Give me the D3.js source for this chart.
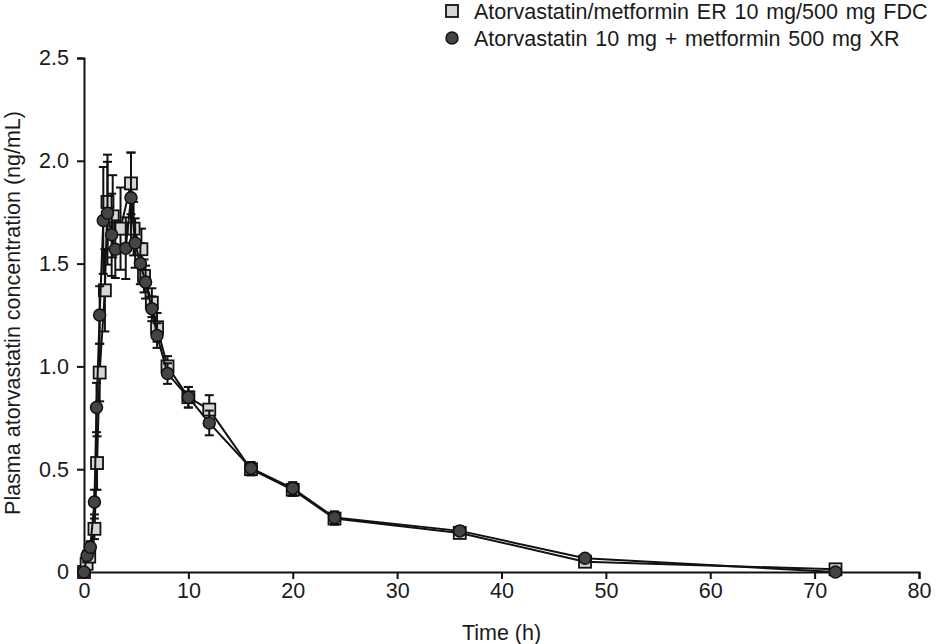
<!DOCTYPE html>
<html>
<head>
<meta charset="utf-8">
<script src="https://cdn.jsdelivr.net/npm/d3@7"></script>
<style>
    body { margin: 0; background: #fff; }
    text { font-family: "Liberation Sans", Arial, sans-serif; fill: #1a1a1a; }
</style>
</head>
<body>
<div id="chart-area"></div>
<script>
// Atorvastatin/metformin ER 10 mg/500 mg FDC (squares)
var fdcTime = [0, 0.25, 0.5, 1, 1.25, 1.5, 2, 2.25, 2.75, 3.5, 4.5, 4.75, 5.5, 5.75, 6.5, 7, 8, 10, 12, 16, 20, 24, 36, 48, 72];
var fdcConc = [0, 0.04, 0.075, 0.21, 0.53, 0.97, 1.37, 1.80, 1.73, 1.67, 1.89, 1.67, 1.57, 1.44, 1.31, 1.19, 1.00, 0.85, 0.79, 0.50, 0.40, 0.26, 0.19, 0.05, 0.013];
var fdcErr  = [0, 0.02, 0.03, 0.05, 0.13, 0.14, 0.20, 0.23, 0.20, 0.20, 0.15, 0.13, 0.10, 0.08, 0.07, 0.07, 0.05, 0.05, 0.07, 0.03, 0.03, 0.03, 0.02, 0.01, 0.005];

// Atorvastatin 10 mg + metformin 500 mg XR (circles)
var coTime = [0, 0.3, 0.6, 1, 1.2, 1.5, 1.85, 2.25, 2.65, 3, 4, 4.5, 4.9, 5.4, 5.9, 6.5, 7, 8, 10, 12, 16, 20, 24, 36, 48, 72];
var coConc = [0, 0.08, 0.12, 0.34, 0.80, 1.25, 1.71, 1.745, 1.64, 1.57, 1.575, 1.82, 1.60, 1.50, 1.41, 1.28, 1.15, 0.965, 0.85, 0.725, 0.505, 0.407, 0.265, 0.20, 0.067, 0];
var coErr  = [0, 0.02, 0.03, 0.06, 0.12, 0.14, 0.26, 0.25, 0.20, 0.14, 0.15, 0.22, 0.12, 0.10, 0.08, 0.06, 0.06, 0.05, 0.05, 0.06, 0.03, 0.03, 0.03, 0.02, 0.01, 0.005];

var xTicks = [0, 10, 20, 30, 40, 50, 60, 70, 80];
var yTicks = [0, 0.5, 1.0, 1.5, 2.0, 2.5];
var seriesNames = ["Atorvastatin/metformin ER 10 mg/500 mg FDC", "Atorvastatin 10 mg + metformin 500 mg XR"];

function PkChart() {
    var self = this;
    self.init();
}

PkChart.prototype.init = function() {
    var self = this;

    self.width = 935;
    self.height = 644;
    self.margin = {left: 84, right: 15, top: 58, bottom: 72};
    self.fontSize = 21.5;

    self.svg = d3.select("#chart-area").append("svg")
        .attr("width", self.width)
        .attr("height", self.height);

    self.x = d3.scaleLinear()
        .domain([0, 80])
        .range([self.margin.left, self.width - self.margin.right - 1]);

    self.y = d3.scaleLinear()
        .domain([0, 2.5])
        .range([self.height - self.margin.bottom, self.margin.top]);

    self.renderAxes();
    self.renderSeries(fdcTime, fdcConc, fdcErr, "square");
    self.renderSeries(coTime, coConc, coErr, "circle");
    self.renderLegend();
};

PkChart.prototype.renderAxes = function() {
    var self = this;

    var xAxis = d3.axisBottom(self.x)
        .tickValues(xTicks)
        .tickSize(7)
        .tickPadding(4)
        .tickFormat(d3.format("d"));

    var gx = self.svg.append("g")
        .attr("transform", "translate(0," + self.y(0) + ")")
        .call(xAxis);

    var yAxis = d3.axisLeft(self.y)
        .tickValues(yTicks)
        .tickSize(7)
        .tickPadding(8)
        .tickFormat(function(d) { return d === 0 ? "0" : d3.format(".1f")(d); });

    var gy = self.svg.append("g")
        .attr("transform", "translate(" + self.x(0) + ",0)")
        .call(yAxis);

    [gx, gy].forEach(function(g) {
        g.select(".domain").attr("stroke", "#111").attr("stroke-width", 2);
        g.selectAll(".tick line").attr("stroke", "#111").attr("stroke-width", 2);
        g.selectAll(".tick text").attr("font-size", self.fontSize).attr("fill", "#1a1a1a");
    });

    self.svg.append("text")
        .attr("x", (self.x(0) + self.x(80)) / 2)
        .attr("y", 640)
        .attr("text-anchor", "middle")
        .attr("font-size", self.fontSize)
        .text("Time (h)");

    self.svg.append("text")
        .attr("transform", "translate(20," + (self.y(1.25) - 2) + ") rotate(-90)")
        .attr("text-anchor", "middle")
        .attr("font-size", self.fontSize)
        .text("Plasma atorvastatin concentration (ng/mL)");
};

PkChart.prototype.renderSeries = function(times, conc, err, shape) {
    var self = this;

    var data = times.map(function(t, i) {
        return {t: t, c: conc[i], e: err[i]};
    });

    var line = d3.line()
        .x(function(d) { return self.x(d.t); })
        .y(function(d) { return self.y(d.c); });

    var g = self.svg.append("g");

    // error bars
    var bars = g.selectAll(".err")
        .data(data.filter(function(d) { return d.e > 0.004; }))
        .enter().append("g")
        .attr("stroke", "#111")
        .attr("stroke-width", 2);

    bars.append("line")
        .attr("x1", function(d) { return self.x(d.t); })
        .attr("x2", function(d) { return self.x(d.t); })
        .attr("y1", function(d) { return self.y(d.c - d.e); })
        .attr("y2", function(d) { return self.y(d.c + d.e); });

    [1, -1].forEach(function(sign) {
        bars.append("line")
            .attr("x1", function(d) { return self.x(d.t) - 4.5; })
            .attr("x2", function(d) { return self.x(d.t) + 4.5; })
            .attr("y1", function(d) { return self.y(d.c + sign * d.e); })
            .attr("y2", function(d) { return self.y(d.c + sign * d.e); });
    });

    g.append("path")
        .datum(data)
        .attr("fill", "none")
        .attr("stroke", "#111")
        .attr("stroke-width", 2)
        .attr("d", line);

    if (shape === "square") {
        g.selectAll(".mark")
            .data(data)
            .enter().append("rect")
            .attr("x", function(d) { return self.x(d.t) - 6; })
            .attr("y", function(d) { return self.y(d.c) - 6; })
            .attr("width", 12)
            .attr("height", 12)
            .attr("fill", "#d6d6d6")
            .attr("stroke", "#111")
            .attr("stroke-width", 1.8);
    } else {
        g.selectAll(".mark")
            .data(data)
            .enter().append("circle")
            .attr("cx", function(d) { return self.x(d.t); })
            .attr("cy", function(d) { return self.y(d.c); })
            .attr("r", 6)
            .attr("fill", "#444")
            .attr("stroke", "#111")
            .attr("stroke-width", 1.5);
    }
};

PkChart.prototype.renderLegend = function() {
    var self = this;

    var lg = self.svg.append("g")
        .attr("transform", "translate(452, 11)");

    lg.append("rect")
        .attr("x", -6).attr("y", -6)
        .attr("width", 12).attr("height", 12)
        .attr("fill", "#d6d6d6")
        .attr("stroke", "#111")
        .attr("stroke-width", 1.8);

    lg.append("circle")
        .attr("cx", 0).attr("cy", 27)
        .attr("r", 6)
        .attr("fill", "#444")
        .attr("stroke", "#111")
        .attr("stroke-width", 1.5);

    lg.selectAll(".lab")
        .data(seriesNames)
        .enter().append("text")
        .attr("x", 22)
        .attr("y", function(d, i) { return i * 27 + 7.5; })
        .attr("font-size", self.fontSize)
        .attr("word-spacing", 1.8)
        .text(function(d) { return d; });
};

new PkChart();
</script>
</body>
</html>
